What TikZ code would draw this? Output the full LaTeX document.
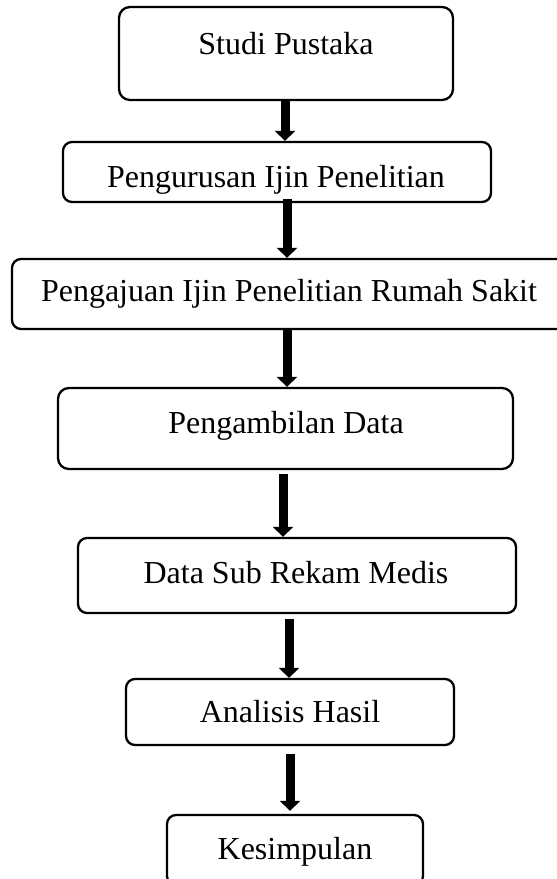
\documentclass[tikz,border=0pt]{standalone}
\usepackage{fontspec}
\setmainfont{Liberation Serif}
\usetikzlibrary{arrows.meta}
\tikzset{
  box/.style={draw, line width=2.3pt, rounded corners=11pt, inner sep=0pt},
  lbl/.style={anchor=base, inner sep=0pt, font=\fontsize{32}{32}\selectfont},
  arr/.style={line width=9pt, -{Triangle[width=20pt,length=10pt]}}
}
\begin{document}
\begin{tikzpicture}[x=1pt,y=-1pt]
\useasboundingbox[fill=white] (0,0) rectangle (557,879);
% boxes
\node[box, minimum width=334pt, minimum height=93pt] (b1) at (286,53.5) {};
\node[box, rounded corners=9pt, minimum width=428pt, minimum height=60pt] (b2) at (277,172) {};
\node[box, rounded corners=9pt, minimum width=556pt, minimum height=70pt] (b3) at (290,294) {};
\node[box, minimum width=455pt, minimum height=81pt] (b4) at (285.5,428.5) {};
\node[box, rounded corners=9pt, minimum width=438pt, minimum height=75pt] (b5) at (297,575.5) {};
\node[box, rounded corners=9pt, minimum width=328pt, minimum height=66pt] (b6) at (290,712) {};
\node[box, rounded corners=9pt, minimum width=256pt, minimum height=70pt] (b7) at (295,850) {};
% texts
\node[lbl] (t1) at (286,54) {Studi Pustaka};
\node[lbl] (t2) at (276,187) {Pengurusan Ijin Penelitian};
\node[lbl] (t3) at (289,301) {Pengajuan Ijin Penelitian Rumah Sakit};
\node[lbl] (t4) at (286,433) {Pengambilan Data};
\node[lbl] (t5) at (296,583) {Data Sub Rekam Medis};
\node[lbl] (t6) at (290,722) {Analisis Hasil};
\node[lbl] (t7) at (295,859) {Kesimpulan};
% arrow axes
\coordinate (c1) at (285,0);
\coordinate (c2) at (287,0);
\coordinate (c3) at (287,0);
\coordinate (c4) at (283,0);
\coordinate (c5) at (289,0);
\coordinate (c6) at (290,0);
% arrows
\draw[arr] (b1.south -| c1) -- (b2.north -| c1);
\draw[arr, shorten <=-4pt] (b2.south -| c2) -- (b3.north -| c2);
\draw[arr] (b3.south -| c3) -- (b4.north -| c3);
\draw[arr, shorten <=4pt] (b4.south -| c4) -- (b5.north -| c4);
\draw[arr, shorten <=5pt] (b5.south -| c5) -- (b6.north -| c5);
\draw[arr, shorten <=8pt, shorten >=3pt] (b6.south -| c6) -- (b7.north -| c6);
\end{tikzpicture}
\end{document}
